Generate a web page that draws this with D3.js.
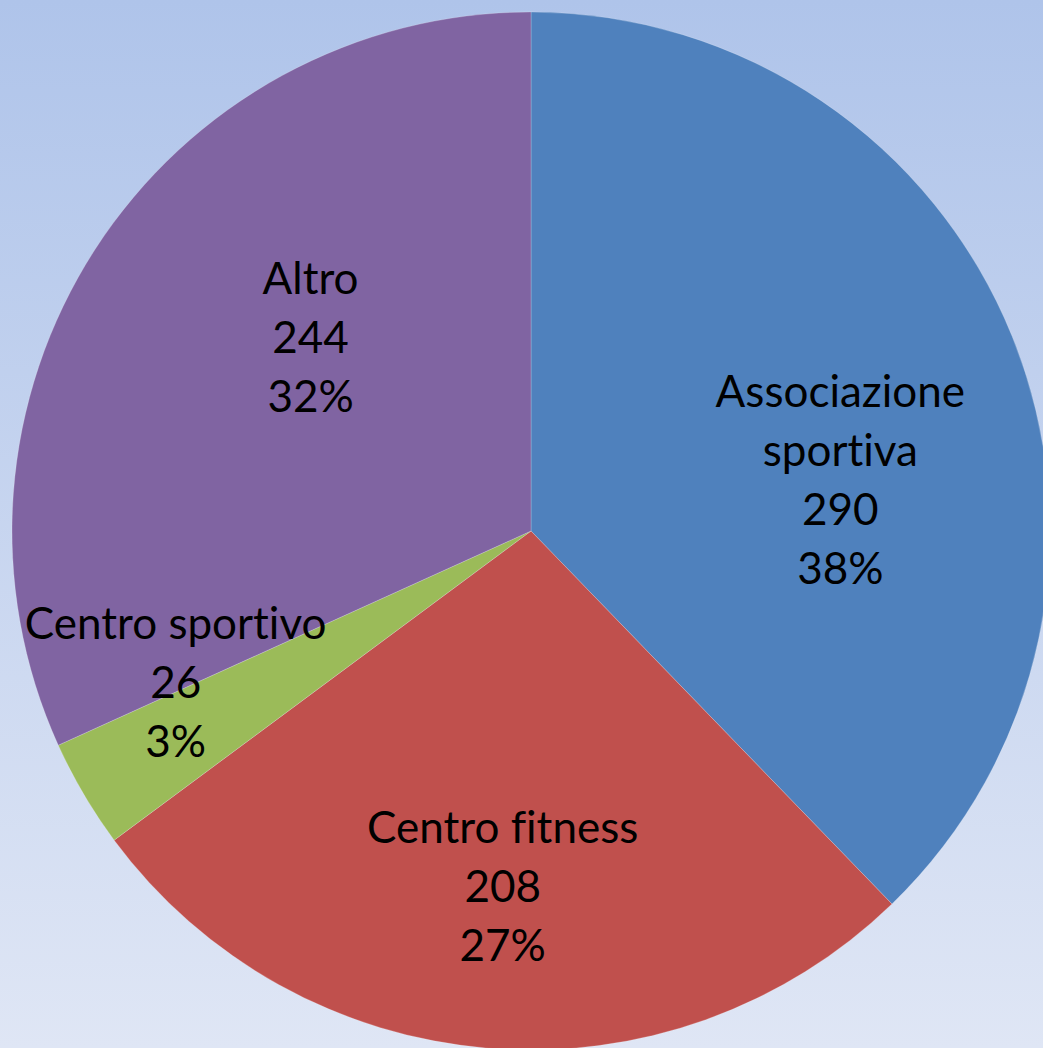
<!DOCTYPE html>
<html>
<head>
<meta charset="utf-8">
<script src="https://cdn.jsdelivr.net/npm/d3@7"></script>
<style>
  html, body { margin: 0; padding: 0; }
  body { width: 1043px; height: 1048px; overflow: hidden; }
</style>
</head>
<body>
<div id="chart"></div>
<script>
"use strict";

// data
const categories = ["Associazione sportiva", "Centro fitness", "Centro sportivo", "Altro"];
const values = [290, 208, 26, 244];
const colors = ["#4f81bd", "#c0504d", "#9bbb59", "#8064a2"];
// label lines (Excel wraps the long name)
const labelLines = [["Associazione", "sportiva"], ["Centro fitness"], ["Centro sportivo"], ["Altro"]];

const W = 1043, H = 1048;
const cx = 531, cy = 531, R = 519;

const svg = d3.select("#chart").append("svg")
  .attr("width", W).attr("height", H)
  .style("display", "block");

// background gradient
const grad = svg.append("defs").append("linearGradient")
  .attr("id", "bg").attr("x1", 0).attr("y1", 0).attr("x2", 0).attr("y2", 1);
grad.append("stop").attr("offset", "0%").attr("stop-color", "#afc4ea");
grad.append("stop").attr("offset", "100%").attr("stop-color", "#dfe6f5");
svg.append("rect").attr("width", W).attr("height", H).attr("fill", "url(#bg)");

const total = d3.sum(values);
const rows = categories.map((c, i) => ({ name: c, value: values[i], color: colors[i], lines: labelLines[i] }));

const pie = d3.pie().value(d => d.value).sort(null);
const arc = d3.arc().innerRadius(0).outerRadius(R);
const labelArc = d3.arc().innerRadius(R * 0.62).outerRadius(R * 0.62);

// Excel "best fit" nudges from the centroid
const nudges = [[11, 68], [-2, 33], [-78, -13], [50, -21]];

const g = svg.append("g").attr("transform", `translate(${cx},${cy})`);
const arcs = pie(rows);

g.selectAll("path.slice")
  .data(arcs)
  .join("path")
  .attr("class", "slice")
  .attr("d", arc)
  .attr("fill", d => d.data.color)
  .attr("stroke", "#ffffff")
  .attr("stroke-opacity", 0.25)
  .attr("stroke-width", 0.8);

const lineH = 59;
const labels = g.selectAll("text.lbl")
  .data(arcs)
  .join("text")
  .attr("class", "lbl")
  .attr("text-anchor", "middle")
  .attr("font-family", "Lato, 'Open Sans', sans-serif")
  .attr("font-size", 44)
  .style("font-variant-ligatures", "none")
  .attr("fill", "#000")
  .attr("transform", (d, i) => {
    const [x, y] = labelArc.centroid(d);
    return `translate(${x + nudges[i][0]},${y + nudges[i][1]})`;
  });

labels.each(function (d) {
  const lines = d.data.lines.concat([String(d.data.value), Math.round(d.data.value / total * 100) + "%"]);
  const t = d3.select(this);
  const off = -(lines.length - 1) / 2 * lineH;
  lines.forEach((s, k) => {
    t.append("tspan")
      .attr("x", 0)
      .attr("y", off + k * lineH)
      .attr("dominant-baseline", "central")
      .text(s);
  });
});
</script>
</body>
</html>
